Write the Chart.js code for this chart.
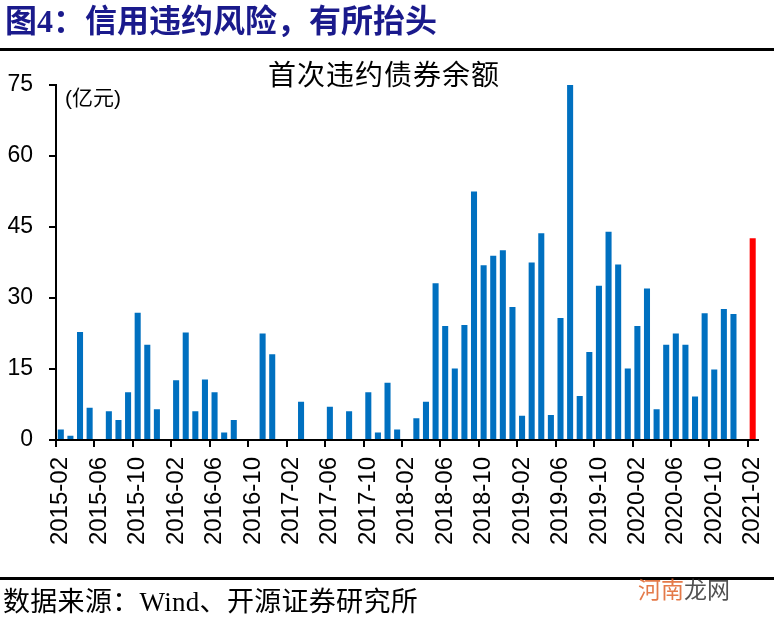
<!DOCTYPE html>
<html>
<head>
<meta charset="utf-8">
<script src="https://cdn.jsdelivr.net/npm/chart.js@4"></script>
<style>
  html, body { margin: 0; padding: 0; background: #fff; }
  #wrap { position: relative; width: 774px; height: 622px; overflow: hidden; }
  #chart { position: absolute; left: 0; top: 0; }
  .txt { position: absolute; white-space: nowrap; }
  #head { left: 5px; top: 5px; font: bold 32px/32px "Liberation Serif", "Noto Sans CJK SC"; color: #1a1a8c; }
  #title { left: 0; width: 768px; text-align: center; top: 62px; font: 28px/28px "Liberation Serif", "Noto Sans CJK SC"; letter-spacing: 1px; color: #000; }
  #unit { left: 65px; top: 87px; font: 21px/21px "Liberation Sans", "Noto Sans CJK SC"; color: #000; }
  #foot { left: 3px; top: 589px; font: 27px/27px "Liberation Serif", "Noto Sans CJK SC"; letter-spacing: 0.3px; color: #000; }
  #mark { left: 638px; top: 577px; font: 23px/23px "Noto Sans CJK SC"; color: #333; opacity: 0.85; }
  #mark span { color: #e0632a; }
  .rule { position: absolute; left: 0; width: 774px; height: 3px; background: #000; }
</style>
</head>
<body>
<div id="wrap">
  <canvas id="chart" width="774" height="622"></canvas>
  <div class="txt" id="head">图4：信用违约风险，有所抬头</div>
  <div class="rule" style="top:48px"></div>
  <div class="txt" id="title">首次违约债券余额</div>
  <div class="txt" id="unit">(亿元)</div>
  <div class="rule" style="top:577px"></div>
  <div class="txt" id="foot">数据来源：Wind、开源证券研究所</div>
  <div class="txt" id="mark"><span>河南</span>龙网</div>
</div>
<script>
const MONTHS = [
	'2015-02', '2015-03', '2015-04', '2015-05', '2015-06', '2015-07', '2015-08', '2015-09', '2015-10', '2015-11', '2015-12',
	'2016-01', '2016-02', '2016-03', '2016-04', '2016-05', '2016-06', '2016-07', '2016-08', '2016-09', '2016-10', '2016-11', '2016-12',
	'2017-01', '2017-02', '2017-03', '2017-04', '2017-05', '2017-06', '2017-07', '2017-08', '2017-09', '2017-10', '2017-11', '2017-12',
	'2018-01', '2018-02', '2018-03', '2018-04', '2018-05', '2018-06', '2018-07', '2018-08', '2018-09', '2018-10', '2018-11', '2018-12',
	'2019-01', '2019-02', '2019-03', '2019-04', '2019-05', '2019-06', '2019-07', '2019-08', '2019-09', '2019-10', '2019-11', '2019-12',
	'2020-01', '2020-02', '2020-03', '2020-04', '2020-05', '2020-06', '2020-07', '2020-08', '2020-09', '2020-10', '2020-11', '2020-12',
	'2021-01', '2021-02',
];
// 首次违约债券余额（亿元）
const AMOUNTS = [
	2.2, 0.9, 22.8, 6.8, 0, 6.1, 4.2, 10.1, 26.9, 20.1, 6.5,
	0, 12.6, 22.7, 6.1, 12.8, 10.1, 1.6, 4.2, 0.2, 0, 22.5, 18.1,
	0, 0, 8.1, 0, 0, 7.0, 0, 6.1, 0, 10.1, 1.6, 12.1,
	2.2, 0, 4.6, 8.1, 33.1, 24.1, 15.1, 24.3, 52.5, 36.9, 38.9, 40.1,
	28.1, 5.1, 37.5, 43.7, 5.3, 25.8, 75.0, 9.3, 18.6, 32.6, 44.0, 37.1,
	15.1, 24.1, 32.0, 6.5, 20.1, 22.5, 20.1, 9.2, 26.8, 14.9, 27.7, 26.6,
	0, 42.6,
];
const Y_TICKS = [0, 15, 30, 45, 60, 75];
const LABEL_EVERY = 4;

const COLORS = {
	bar: '#0070c0',
	latest: '#ff0000',
	axis: '#000000',
};

const bar_colors = AMOUNTS.map((v, i) => (i === AMOUNTS.length - 1 ? COLORS.latest : COLORS.bar));

const ctx = document.getElementById('chart').getContext('2d');

const config = {
	type: 'bar',
	data: {
		labels: MONTHS,
		datasets: [
			{
				label: '首次违约债券余额',
				data: AMOUNTS,
				backgroundColor: bar_colors,
				borderWidth: 0,
				categoryPercentage: 1,
				barPercentage: 0.63,
			},
		],
	},
	options: {
		responsive: false,
		animation: false,
		layout: {
			padding: { top: 85, left: 0, right: 16.5, bottom: 0 },
		},
		plugins: {
			legend: { display: false },
			title: { display: false },
			tooltip: { enabled: false },
		},
		scales: {
			x: {
				offset: true,
				afterFit: (scale) => {
					scale.height = 182;
					scale.paddingLeft = 0;
					scale.paddingRight = 0;
				},
				grid: {
					offset: true,
					drawOnChartArea: false,
					drawTicks: true,
					tickLength: 7,
					lineWidth: 2,
					tickColor: (c) => (c.index % LABEL_EVERY === 0 ? COLORS.axis : 'rgba(0,0,0,0)'),
				},
				border: { display: true, color: COLORS.axis, width: 2 },
				ticks: {
					autoSkip: false,
					minRotation: 90,
					maxRotation: 90,
					padding: 10,
					color: COLORS.axis,
					font: { family: 'Liberation Sans', size: 24 },
					callback: function (value, index) {
						return index % LABEL_EVERY === 0 ? this.getLabelForValue(value) : '';
					},
				},
			},
			y: {
				min: 0,
				max: 75,
				afterFit: (scale) => {
					scale.width = 56;
				},
				afterBuildTicks: (scale) => {
					scale.ticks = Y_TICKS.map((v) => ({ value: v }));
				},
				grid: {
					drawOnChartArea: false,
					drawTicks: true,
					tickLength: 7,
					lineWidth: 2,
					tickColor: COLORS.axis,
				},
				border: { display: true, color: COLORS.axis, width: 2 },
				ticks: {
					padding: 16,
					color: COLORS.axis,
					font: { family: 'Liberation Sans', size: 23 },
				},
			},
		},
	},
};

new Chart(ctx, config);
</script>
</body>
</html>
